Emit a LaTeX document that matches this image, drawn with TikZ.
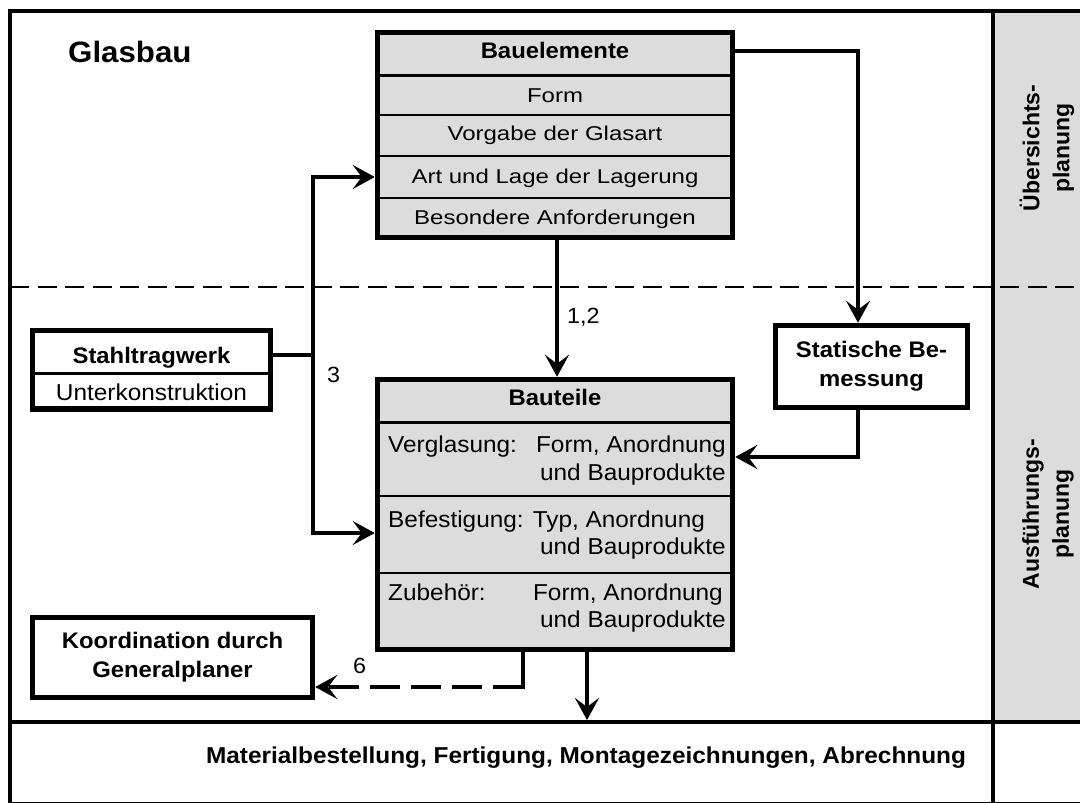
\documentclass[tikz,border=0pt]{standalone}
\usepackage{fontspec}
\setmainfont{Liberation Sans}[FakeStretch=1.06]
\newfontfamily\widefont{Liberation Sans}[FakeStretch=1.2]
\newfontfamily\plainfont{Liberation Sans}
\usetikzlibrary{arrows.meta}

\definecolor{panel}{HTML}{DCDCDC}

\tikzset{
  frameline/.style={line width=4pt},
  phaseline/.style={line width=2.5pt, dash pattern=on 19pt off 8.5pt},
  box/.style={draw, line width=5.5pt, fill=panel, inner sep=0pt},
  whitebox/.style={box, fill=white},
  divider/.style={line width=3pt},
  thindiv/.style={line width=1.5pt},
  conn/.style={line width=3.2pt},
  arr/.style={conn, -{Stealth[length=22pt,width=24pt,inset=9pt]}},
  txt/.style={inner sep=0pt, font=\fontsize{23}{27}\selectfont},
  rowtxt/.style={inner sep=0pt, font=\widefont\fontsize{20}{24}\selectfont},
  hdr/.style={inner sep=0pt, font=\bfseries\fontsize{22.5}{29}\selectfont},
  numlbl/.style={inner sep=0pt, font=\fontsize{22}{26}\selectfont},
  sidelbl/.style={inner sep=0pt, rotate=90, align=center, font=\plainfont\bfseries\fontsize{23}{30}\selectfont},
}

\begin{document}
\begin{tikzpicture}[x=1pt,y=-1pt]
\useasboundingbox (0,0) rectangle (1080,803);

% phase column and frame
\fill[panel] (993,11) rectangle (1083,722);
\draw[phaseline] (10,287) -- (1083,287);
\draw[frameline] (10,11) rectangle (1083,803.5);
\draw[frameline] (10,722) -- (1083,722);
\draw[frameline] (993,11) -- (993,803.5);

\node[inner sep=0pt, anchor=base west, font=\bfseries\fontsize{29.5}{34}\selectfont] (title) at (68,62) {Glasbau};

\node[sidelbl] (phase1) at (1047,148) {Übersichts-\\planung};
\node[sidelbl] (phase2) at (1048,514) {Ausführungs-\\planung};

% Bauelemente
\node[box, minimum width=355pt, minimum height=205pt] (bel) at (555,135) {};
\draw[divider] (bel.west |- 0,75) -- (bel.east |- 0,75);
\draw[thindiv] (bel.west |- 0,115) -- (bel.east |- 0,115);
\draw[thindiv] (bel.west |- 0,156) -- (bel.east |- 0,156);
\draw[thindiv] (bel.west |- 0,198) -- (bel.east |- 0,198);
\node[hdr, anchor=base] (belH) at (555,58) {Bauelemente};
\node[rowtxt, anchor=base] (belA) at (555,102) {Form};
\node[rowtxt, anchor=base] (belB) at (555,140.5) {Vorgabe der Glasart};
\node[rowtxt, anchor=base] (belC) at (555,183) {Art und Lage der Lagerung};
\node[rowtxt, anchor=base] (belD) at (555,224.5) {Besondere Anforderungen};

% Bauteile
\node[box, minimum width=355pt, minimum height=270pt] (bt) at (555,514.5) {};
\draw[divider] (bt.west |- 0,422) -- (bt.east |- 0,422);
\draw[thindiv] (bt.west |- 0,496) -- (bt.east |- 0,496);
\draw[thindiv] (bt.west |- 0,573) -- (bt.east |- 0,573);
\node[hdr, anchor=base] (btH) at (555,405) {Bauteile};
\node[txt, anchor=base west] (btA) at (388,452.5) {Verglasung:};
\node[txt, anchor=base east] (btA1) at (726,452.5) {Form, Anordnung};
\node[txt, anchor=base east] (btA2) at (726,480) {und Bauprodukte};
\node[txt, anchor=base west] (btB) at (388,527) {Befestigung: Typ, Anordnung};
\node[txt, anchor=base east] (btB2) at (726,554) {und Bauprodukte};
\node[txt, anchor=base west] (btC) at (388,600) {Zubehör:};
\node[txt, anchor=base east] (btC1) at (723,600) {Form, Anordnung};
\node[txt, anchor=base east] (btC2) at (726,627) {und Bauprodukte};

% Stahltragwerk
\node[whitebox, minimum width=238pt, minimum height=78.5pt] (st) at (151.5,369.5) {};
\draw[divider] (st.west |- 0,373) -- (st.east |- 0,373);
\node[hdr, anchor=base] (stH) at (151.5,363) {Stahltragwerk};
\node[txt, anchor=base] (stA) at (151.5,400.5) {Unterkonstruktion};

% Statische Bemessung and Koordination
\node[whitebox, minimum width=192pt, minimum height=82pt, align=center, font=\bfseries\fontsize{22.5}{29}\selectfont] (stat) at (871.5,366.5) {Statische Be-\\messung};
\node[whitebox, minimum width=280pt, minimum height=80pt, align=center, font=\bfseries\fontsize{22.5}{29}\selectfont] (ko) at (172.5,657.5) {Koordination durch\\Generalplaner};

% bottom row
\node[inner sep=0pt, anchor=base, font=\bfseries\fontsize{23}{27}\selectfont] (mat) at (586,763) {Materialbestellung, Fertigung, Montagezeichnungen, Abrechnung};

% connectors
\draw[arr] (bel.east |- 0,51) -| ([xshift=-13.5pt]stat.north);
\draw[arr] ([xshift=-13.5pt]stat.south) |- (bt.east |- 0,457);
\draw[arr] (bel.south -| 557,0) -- (bt.north -| 557,0);
\node[numlbl, anchor=base west] (l12) at (567,323) {1,2};

\coordinate (j) at (313,355);
\draw[conn] (st.east |- j) -- (j);
\draw[arr] (j) |- (bel.west |- 0,177);
\draw[arr] (j) |- (bt.west |- 0,533);
\node[numlbl, anchor=base west] (l3) at (327,382) {3};

\coordinate (c6) at (523,687);
\draw[conn, line cap=rect] (bt.south -| c6) -- (c6);
\draw[arr, dash pattern=on 30pt off 11pt] (c6) -- (ko.east |- c6);
\node[numlbl, anchor=base west] (l6) at (353,673) {6};

\coordinate (mt) at (587,720);
\draw[arr] (bt.south -| mt) -- (mt);
\end{tikzpicture}
\end{document}
